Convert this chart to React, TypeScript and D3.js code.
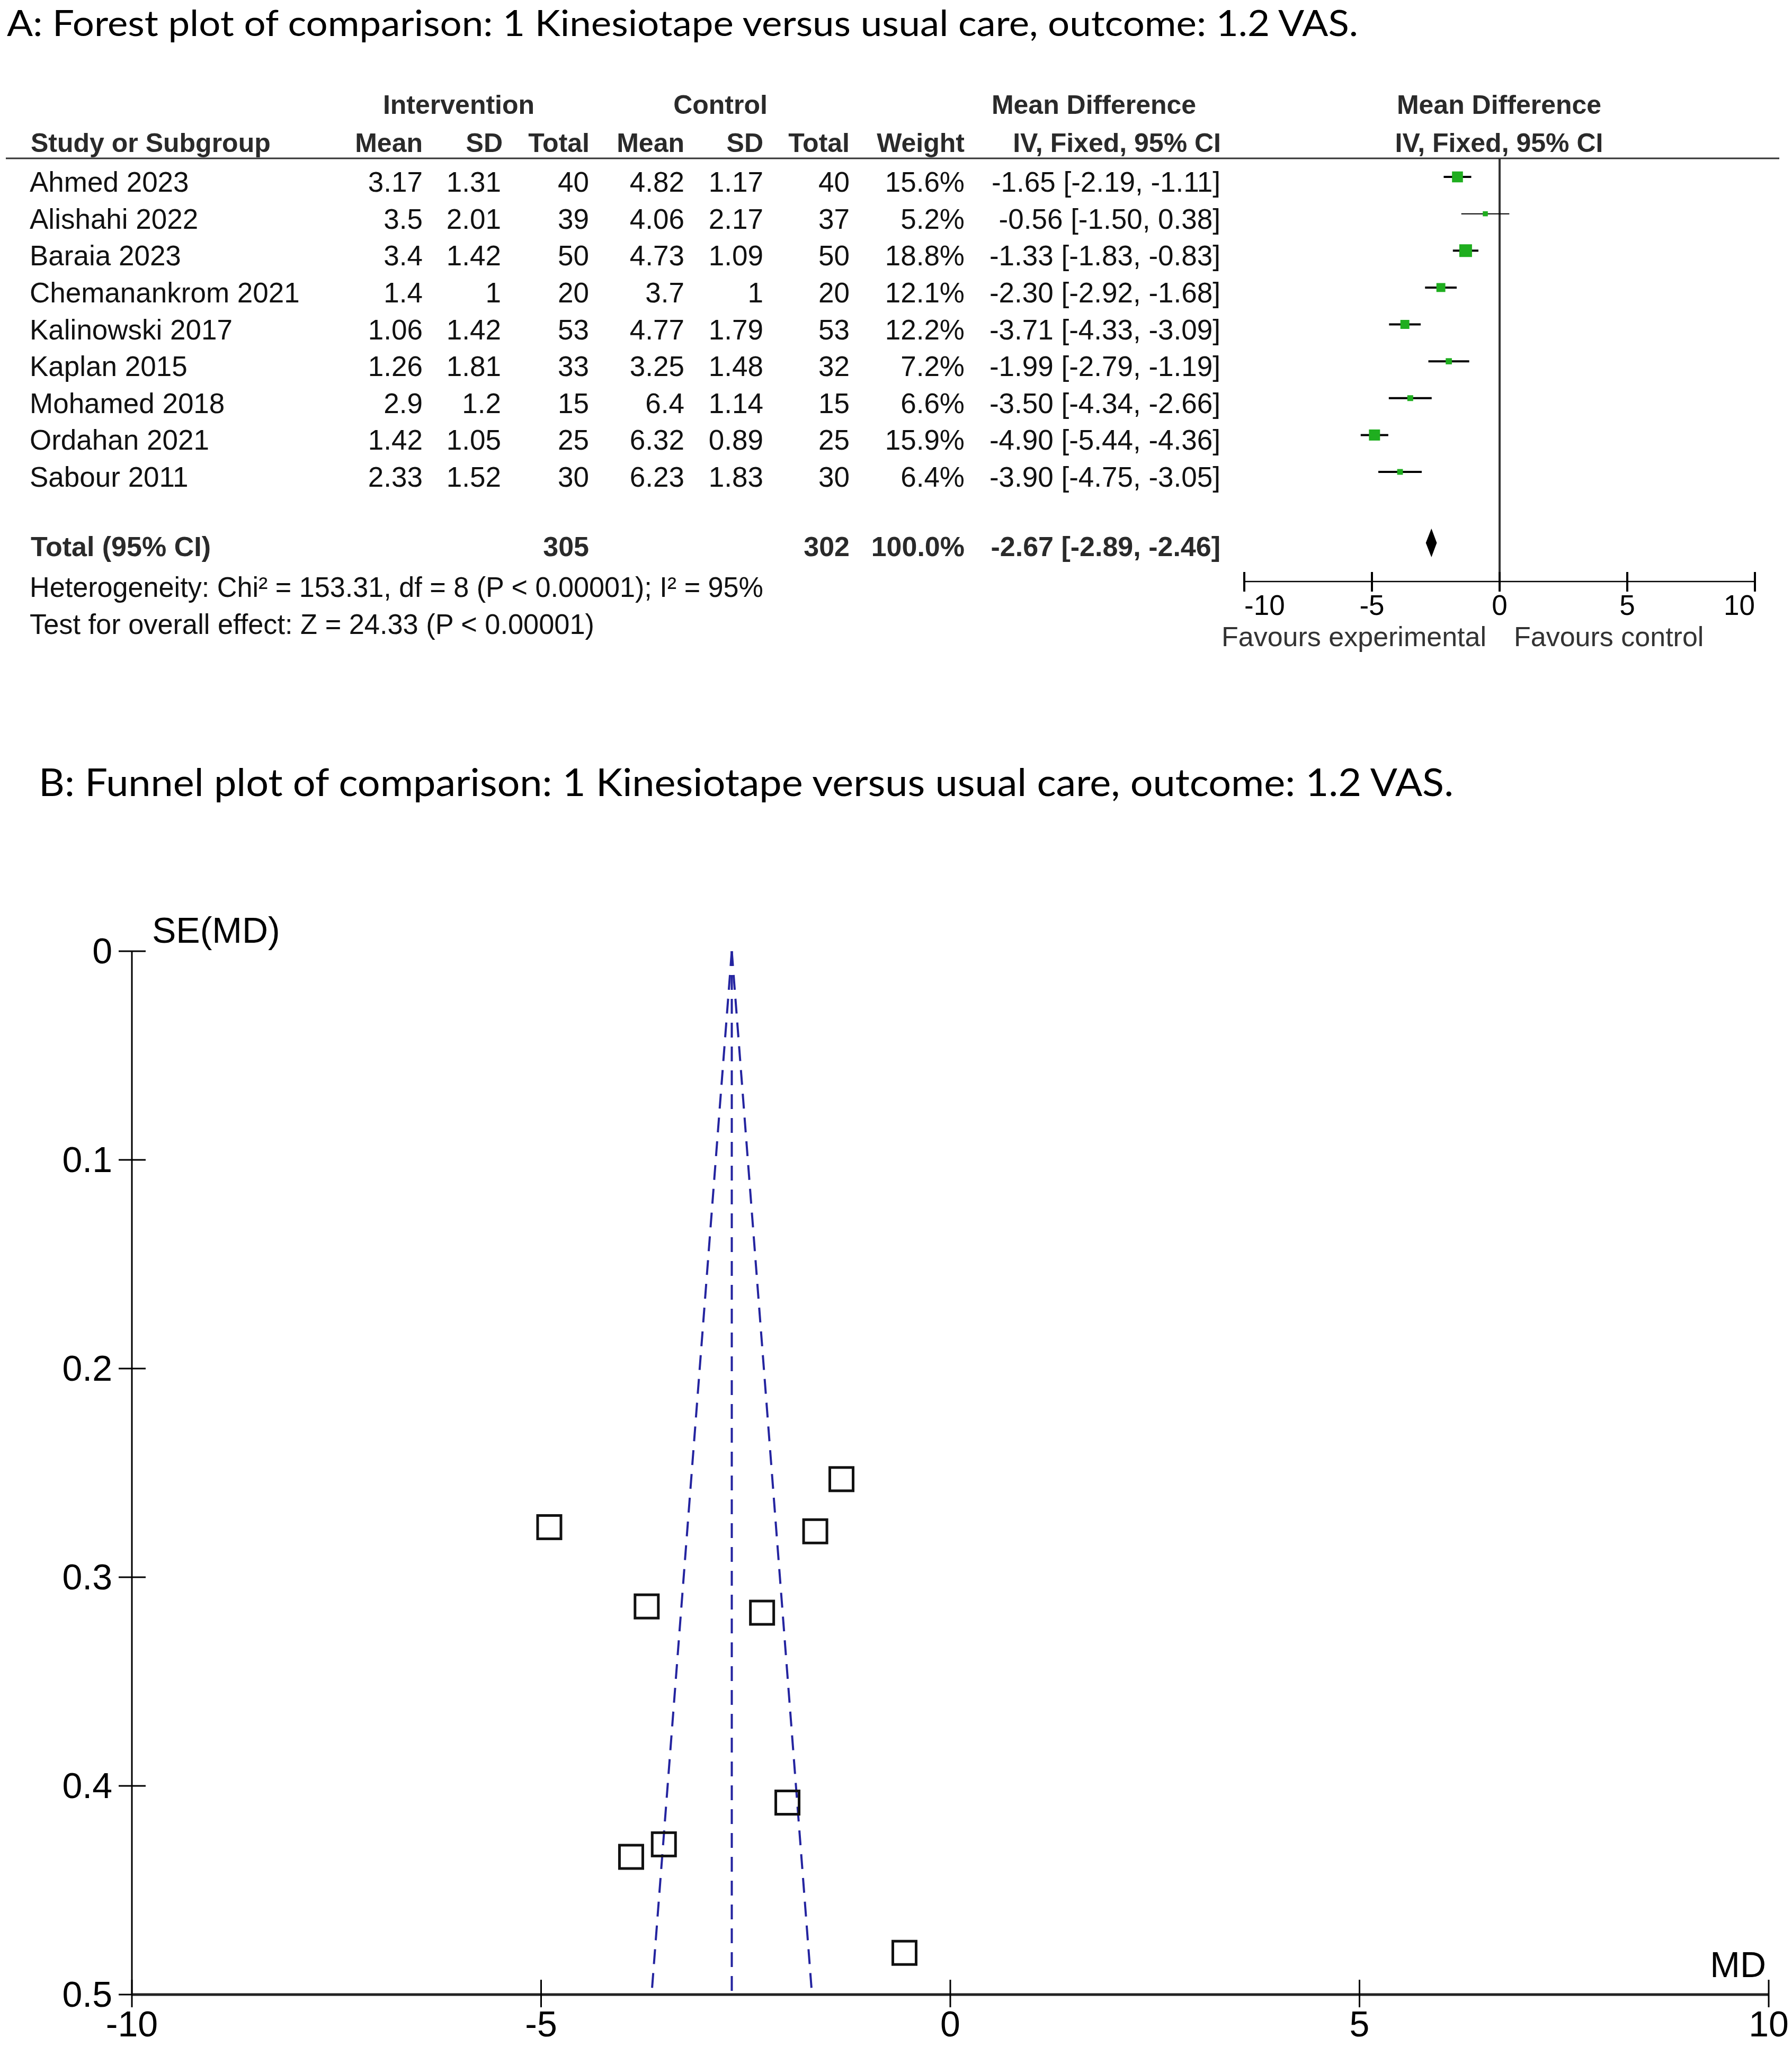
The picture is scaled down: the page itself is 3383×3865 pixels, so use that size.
import * as d3 from "d3";

// forest plot table data (Kinesiotape vs usual care, VAS)
const studies = [
  "Ahmed 2023",
  "Alishahi 2022",
  "Baraia 2023",
  "Chemanankrom 2021",
  "Kalinowski 2017",
  "Kaplan 2015",
  "Mohamed 2018",
  "Ordahan 2021",
  "Sabour 2011",
];
const intMean = [3.17, 3.5, 3.4, 1.4, 1.06, 1.26, 2.9, 1.42, 2.33];
const intSD = [1.31, 2.01, 1.42, 1, 1.42, 1.81, 1.2, 1.05, 1.52];
const intTotal = [40, 39, 50, 20, 53, 33, 15, 25, 30];
const ctlMean = [4.82, 4.06, 4.73, 3.7, 4.77, 3.25, 6.4, 6.32, 6.23];
const ctlSD = [1.17, 2.17, 1.09, 1, 1.79, 1.48, 1.14, 0.89, 1.83];
const ctlTotal = [40, 37, 50, 20, 53, 32, 15, 25, 30];
const weights = [15.6, 5.2, 18.8, 12.1, 12.2, 7.2, 6.6, 15.9, 6.4];
const md = [-1.65, -0.56, -1.33, -2.3, -3.71, -1.99, -3.5, -4.9, -3.9];
const ciLow = [-2.19, -1.5, -1.83, -2.92, -4.33, -2.79, -4.34, -5.44, -4.75];
const ciHigh = [-1.11, 0.38, -0.83, -1.68, -3.09, -1.19, -2.66, -4.36, -3.05];

// pooled result
const totalInt = 305;
const totalCtl = 302;
const pooled = { md: -2.67, lo: -2.89, hi: -2.46 };

// funnel plot: standard error of each study
const seMD = [0.278, 0.48, 0.253, 0.317, 0.314, 0.408, 0.428, 0.276, 0.434];

const forestTicks = [-10, -5, 0, 5, 10];
const funnelXTicks = [-10, -5, 0, 5, 10];
const funnelYTicks = [0, 0.1, 0.2, 0.3, 0.4, 0.5];

const W = 3383;
const H = 3865;
const tableFont = "'Liberation Sans', Arial, sans-serif";
const titleFont = "Lato, 'Open Sans', sans-serif";

const fx = d3.scaleLinear().domain([-10, 10]).range([2349, 3313]);
const rowY = d3.scaleLinear().domain([0, 8]).range([362, 919]);
const boxSize = d3.scaleLinear().domain([0, 18.8]).range([4, 24]);

const funX = d3.scaleLinear().domain([-10, 10]).range([249, 3339]);
const funY = d3.scaleLinear().domain([0, 0.5]).range([1796, 3766]);

const fmt2 = (v: number) => v.toFixed(2);
const ci = (m: number, l: number, h: number) => `${fmt2(m)} [${fmt2(l)}, ${fmt2(h)}]`;

function ForestTable() {
  const headBold = { fontFamily: tableFont, fontWeight: 700, fontSize: 50, fill: "#2a2a2a" };
  const cell = { fontFamily: tableFont, fontSize: 53, fill: "#111" };
  const cols = [
    { x: 798, vals: intMean.map(String) },
    { x: 946, vals: intSD.map(String) },
    { x: 1112, vals: intTotal.map(String) },
    { x: 1292, vals: ctlMean.map(String) },
    { x: 1441, vals: ctlSD.map(String) },
    { x: 1604, vals: ctlTotal.map(String) },
    { x: 1821, vals: weights.map((w) => `${w.toFixed(1)}%`) },
    { x: 2304, vals: md.map((m, i) => ci(m, ciLow[i], ciHigh[i])) },
  ];
  return (
    <g>
      {/* header rows */}
      <g {...headBold}>
        <text x={866} y={215} textAnchor="middle">Intervention</text>
        <text x={1360} y={215} textAnchor="middle">Control</text>
        <text x={2065} y={215} textAnchor="middle">Mean Difference</text>
        <text x={2830} y={215} textAnchor="middle">Mean Difference</text>
        <text x={58} y={287}>Study or Subgroup</text>
        <text x={798} y={287} textAnchor="end">Mean</text>
        <text x={949} y={287} textAnchor="end">SD</text>
        <text x={1113} y={287} textAnchor="end">Total</text>
        <text x={1292} y={287} textAnchor="end">Mean</text>
        <text x={1441} y={287} textAnchor="end">SD</text>
        <text x={1604} y={287} textAnchor="end">Total</text>
        <text x={1821} y={287} textAnchor="end">Weight</text>
        <text x={2305} y={287} textAnchor="end">IV, Fixed, 95% CI</text>
        <text x={2830} y={287} textAnchor="middle">IV, Fixed, 95% CI</text>
      </g>
      <line x1={11} x2={3359} y1={299} y2={299} stroke="#333" strokeWidth={3} />

      {/* study rows */}
      <g {...cell}>
        {studies.map((s, i) => (
          <text key={s} x={56} y={rowY(i)}>{s}</text>
        ))}
        {cols.map((c, ci2) =>
          c.vals.map((v, i) => (
            <text key={`${ci2}-${i}`} x={c.x} y={rowY(i)} textAnchor="end">{v}</text>
          ))
        )}
      </g>

      {/* totals */}
      <g {...headBold} fontSize={52}>
        <text x={58} y={1050}>Total (95% CI)</text>
        <text x={1112} y={1050} textAnchor="end">{totalInt}</text>
        <text x={1604} y={1050} textAnchor="end">{totalCtl}</text>
        <text x={1821} y={1050} textAnchor="end">100.0%</text>
        <text x={2304} y={1050} textAnchor="end">{ci(pooled.md, pooled.lo, pooled.hi)}</text>
      </g>
      <g {...cell}>
        <text x={56} y={1127} textLength={1385} lengthAdjust="spacingAndGlyphs">
          Heterogeneity: Chi² = 153.31, df = 8 (P &lt; 0.00001); I² = 95%
        </text>
        <text x={56} y={1197} textLength={1066} lengthAdjust="spacingAndGlyphs">
          Test for overall effect: Z = 24.33 (P &lt; 0.00001)
        </text>
      </g>
    </g>
  );
}

function ForestPlot() {
  const axisY = 1098;
  const dPath = d3.line()([
    [fx(pooled.lo), 1025],
    [fx(pooled.md), 998],
    [fx(pooled.hi), 1025],
    [fx(pooled.md), 1052],
  ]) + "Z";
  return (
    <g>
      <line x1={fx(0)} x2={fx(0)} y1={300} y2={1117} stroke="#333" strokeWidth={4} />
      {studies.map((s, i) => {
        const cy = rowY(i) - 28;
        const b = boxSize(weights[i]);
        return (
          <g key={s}>
            <line x1={fx(ciLow[i])} x2={fx(ciHigh[i])} y1={cy} y2={cy} stroke="#000" strokeWidth={i === 1 ? 2 : 4} />
            <rect x={fx(md[i]) - b / 2} y={cy - b / 2} width={b} height={b} fill="#1fae1f" />
          </g>
        );
      })}
      <path d={dPath} fill="#000" />
      {/* axis */}
      <line x1={fx(-10)} x2={fx(10)} y1={axisY} y2={axisY} stroke="#000" strokeWidth={2.5} />
      {forestTicks.map((t, i) => (
        <g key={t}>
          <line x1={fx(t)} x2={fx(t)} y1={1080} y2={1117} stroke="#000" strokeWidth={4} />
          <text
            x={fx(t)}
            y={1161}
            fontFamily={tableFont}
            fontSize={53}
            textAnchor={i === 0 ? "start" : i === forestTicks.length - 1 ? "end" : "middle"}
          >
            {t}
          </text>
        </g>
      ))}
      <text x={2806} y={1220} textAnchor="end" fontFamily={tableFont} fontSize={52} fill="#333">Favours experimental</text>
      <text x={2858} y={1220} fontFamily={tableFont} fontSize={52} fill="#333">Favours control</text>
    </g>
  );
}

function FunnelPlot() {
  const apexX = funX(pooled.md);
  const seMax = 0.5;
  const lines = [
    [pooled.md - 1.96 * seMax, seMax],
    [pooled.md, seMax],
    [pooled.md + 1.96 * seMax, seMax],
  ];
  const sq = 44;
  const lab = { fontFamily: tableFont, fontSize: 68, fill: "#000" };
  return (
    <g>
      {lines.map(([m, s], i) => (
        <line
          key={i}
          x1={apexX}
          y1={funY(0)}
          x2={funX(m)}
          y2={funY(s)}
          stroke="#2424a0"
          strokeWidth={4}
          strokeDasharray="28 17"
        />
      ))}
      {md.map((m, i) => (
        <rect
          key={studies[i]}
          x={funX(m) - sq / 2}
          y={funY(seMD[i]) - sq / 2}
          width={sq}
          height={sq}
          fill="none"
          stroke="#111"
          strokeWidth={5}
        />
      ))}
      {/* y axis */}
      <line x1={funX(-10)} x2={funX(-10)} y1={funY(0)} y2={funY(0.5)} stroke="#000" strokeWidth={3} />
      {funnelYTicks.map((t) => (
        <g key={t}>
          <line x1={funX(-10) - 25} x2={funX(-10) + 26} y1={funY(t)} y2={funY(t)} stroke="#000" strokeWidth={3} />
          <text {...lab} x={212} y={funY(t) + 23} textAnchor="end">{t === 0 ? "0" : String(t)}</text>
        </g>
      ))}
      <text {...lab} x={287} y={1780}>SE(MD)</text>
      {/* x axis */}
      <line x1={funX(-10)} x2={funX(10)} y1={funY(0.5)} y2={funY(0.5)} stroke="#222" strokeWidth={5} />
      {funnelXTicks.map((t) => (
        <g key={t}>
          <line x1={funX(t)} x2={funX(t)} y1={3738} y2={3790} stroke="#000" strokeWidth={3} />
          <text {...lab} x={funX(t)} y={3845} textAnchor="middle">{t}</text>
        </g>
      ))}
      <text {...lab} x={3334} y={3733} textAnchor="end">MD</text>
    </g>
  );
}

export default function App() {
  return (
    <div>
      <style>{`body{margin:0;background:#fff}`}</style>
      <svg width={W} height={H} viewBox={`0 0 ${W} ${H}`} style={{ display: "block", background: "#fff" }}>
        <rect width={W} height={H} fill="#fff" />
        <text x={13} y={68} fontFamily={titleFont} fontSize={67} textLength={2551} lengthAdjust="spacingAndGlyphs">
          A: Forest plot of comparison: 1 Kinesiotape versus usual care, outcome: 1.2 VAS.
        </text>
        <ForestTable />
        <ForestPlot />
        <text x={73} y={1503} fontFamily={titleFont} fontSize={72} textLength={2671} lengthAdjust="spacingAndGlyphs">
          B: Funnel plot of comparison: 1 Kinesiotape versus usual care, outcome: 1.2 VAS.
        </text>
        <FunnelPlot />
      </svg>
    </div>
  );
}
